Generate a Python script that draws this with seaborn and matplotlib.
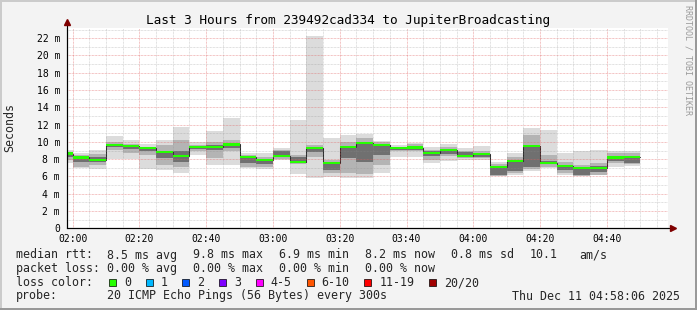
import matplotlib
matplotlib.use("Agg")
import matplotlib.pyplot as plt
import pandas as pd
import seaborn as sns
from matplotlib.patches import Rectangle
from matplotlib.lines import Line2D

# ---------------- data ----------------
title = "Last 3 Hours from 239492cad334 to JupiterBroadcasting"
# step start times, minutes after 02:00 (5-minute steps)
step_start = list(range(-5, 170, 5))
step_end = 170
median = [8.65, 8.2, 7.9, 9.65, 9.5, 9.3, 8.85, 8.4, 9.4, 9.45, 9.7, 8.25,
          7.9, 8.4, 7.7, 9.3, 7.6, 9.45, 9.85, 9.6, 9.3, 9.35, 8.75, 9.1,
          8.4, 8.6, 7.1, 7.8, 9.55, 7.55, 7.25, 6.95, 7.0, 8.2, 8.25]
outer_lo = [7.5, 6.95, 6.85, 8.0, 8.0, 6.85, 6.75, 6.45, 8.5, 7.3, 7.3, 6.95,
            6.9, 7.9, 6.3, 5.8, 5.95, 5.8, 5.85, 6.45, 8.3, 8.3, 7.5, 7.8,
            7.9, 7.9, 6.05, 6.15, 6.65, 6.95, 6.2, 6.0, 6.2, 7.1, 7.25]
outer_hi = [9.1, 8.75, 9.05, 10.7, 10.2, 9.8, 10.2, 11.75, 9.95, 11.3, 12.75, 8.7,
            8.7, 9.25, 12.5, 22.2, 10.4, 10.8, 10.9, 10.1, 9.6, 9.9, 9.4, 9.7,
            9.25, 9.55, 7.7, 8.75, 11.6, 11.4, 8.7, 8.9, 9.1, 9.0, 8.9]
mid_lo = [7.9, 7.1, 7.3, 9.05, 8.7, 8.5, 7.3, 7.1, 8.9, 8.1, 8.9, 7.1,
          7.1, 8.0, 7.4, 8.2, 6.4, 6.4, 6.3, 7.3, 8.9, 8.9, 7.9, 8.4,
          8.1, 8.1, 6.1, 6.4, 6.9, 7.1, 6.4, 6.0, 6.2, 7.5, 7.4]
mid_hi = [8.8, 8.5, 8.6, 10.0, 9.8, 9.45, 9.6, 10.2, 9.6, 10.0, 10.2, 8.5,
          8.3, 9.1, 8.5, 9.6, 7.9, 10.0, 10.4, 9.95, 9.4, 9.7, 9.1, 9.4,
          9.0, 9.0, 7.4, 8.3, 10.8, 8.5, 7.7, 7.3, 7.5, 8.7, 8.7]
inner_lo = [8.3, 7.7, 7.7, 9.4, 9.2, 8.9, 8.1, 7.7, 9.2, 9.1, 9.3, 7.5,
            7.4, 8.35, 7.6, 8.8, 6.75, 8.1, 7.7, 8.5, 9.1, 9.1, 8.4, 8.6,
            8.3, 8.3, 6.2, 6.6, 7.1, 7.4, 6.7, 6.2, 6.5, 7.8, 7.5]
inner_hi = [8.7, 8.3, 8.2, 9.8, 9.6, 9.3, 8.9, 8.9, 9.5, 9.6, 9.8, 8.3,
            7.9, 9.0, 8.2, 9.3, 7.5, 9.5, 10.0, 9.7, 9.35, 9.5, 8.9, 9.2,
            8.8, 8.6, 7.1, 7.9, 9.5, 7.8, 7.3, 7.0, 7.2, 8.4, 8.3]

x_ticks = [0, 20, 40, 60, 80, 100, 120, 140, 160]
x_labels = ["02:00", "02:20", "02:40", "03:00", "03:20", "03:40", "04:00", "04:20", "04:40"]
y_ticks = [0, 2, 4, 6, 8, 10, 12, 14, 16, 18, 20, 22]
y_labels = ["0", "2 m", "4 m", "6 m", "8 m", "10 m", "12 m", "14 m", "16 m", "18 m", "20 m", "22 m"]

rtt_label = "median rtt:"
rtt_items = ["8.5 ms avg", "9.8 ms max", "6.9 ms min", "8.2 ms now", "0.8 ms sd", "10.1", "am/s"]
loss_label = "packet loss:"
loss_items = ["0.00 % avg", "0.00 % max", "0.00 % min", "0.00 % now"]
color_label = "loss color:"
loss_names = ["0", "1", "2", "3", "4-5", "6-10", "11-19", "20/20"]
loss_colors = ["#26ff00", "#00b8ff", "#0059ff", "#7e00ff", "#ff00ff", "#ff5500", "#ff0000", "#a10000"]
probe_label = "probe:"
probe_text = "20 ICMP Echo Pings (56 Bytes) every 300s"
stamp = "Thu Dec 11 04:58:06 2025"
watermark = "RRDTOOL / TOBI OETIKER"
ylabel = "Seconds"

# ---------------- style ----------------
sns.set_style("white")
plt.rcParams["font.family"] = ["DejaVu Sans Mono"]
W, H = 697, 310
fig = plt.figure(figsize=(W / 100, H / 100), dpi=100, facecolor="#f3f3f3")


def fx(x):
    return x / W


def fy(y):
    return 1 - y / H


L, R, T, B = 67, 668, 28, 228.3
ax = fig.add_axes([fx(L), fy(B), fx(R) - fx(L), fy(T) - fy(B)])
ax.set_facecolor("white")

xmin, xmax = -1.68, 178.3
ymax = 23.18

xs = step_start + [step_end]


def ext(v):
    return list(v) + [v[-1]]


for lo, hi, col in [(outer_lo, outer_hi, "#dcdcdc"),
                    (mid_lo, mid_hi, "#b4b4b4"),
                    (inner_lo, inner_hi, "#707070")]:
    ax.fill_between(xs, ext(lo), ext(hi), step="post", color=col, linewidth=0, zorder=1)

df = pd.DataFrame({"t": xs, "median": ext(median)})
sns.lineplot(data=df, x="t", y="median", ax=ax, drawstyle="steps-post",
             color="#202020", linewidth=0.75, sort=False, estimator=None, zorder=2)
hw = 0.13
ax.fill_between(xs, [m - hw for m in ext(median)], [m + hw for m in ext(median)],
                step="post", color=loss_colors[0], linewidth=0, zorder=3)

ax.set_xlim(xmin, xmax)
ax.set_ylim(0, ymax)
ax.set_xticks(x_ticks)
ax.set_xticklabels(x_labels)
ax.set_xticks([m for m in range(0, 180, 5) if m % 20 != 0], minor=True)
ax.set_yticks(y_ticks)
ax.set_yticklabels(y_labels)
ax.set_yticks([v for v in range(1, 24) if v % 2 == 1], minor=True)
ax.set_xlabel("")
ax.set_ylabel("")

dots = (0, (0.72, 0.72))
ax.grid(which="minor", color="#8c8c8c", alpha=0.35, linestyle=dots, linewidth=0.72, zorder=5)
ax.grid(which="major", color="#e06060", alpha=0.5, linestyle=dots, linewidth=0.72, zorder=5)
ax.set_axisbelow(False)

for s in ["top", "right"]:
    ax.spines[s].set_visible(False)
for s in ["left", "bottom"]:
    ax.spines[s].set_color("#000000")
    ax.spines[s].set_linewidth(0.8)
    ax.spines[s].set_zorder(6)

ax.tick_params(axis="both", which="major", direction="inout", length=3, width=0.7,
               color="#d08080", labelsize=7, labelcolor="black")
ax.tick_params(axis="both", which="minor", direction="inout", length=2, width=0.7,
               color="#bbbbbb")
ax.tick_params(axis="x", which="major", pad=2.5)
ax.tick_params(axis="y", which="major", pad=3.5)

# axis arrows
arrow_col = "#7f0000"
fig.add_artist(Line2D([fx(L), fx(L)], [fy(B), fy(24)], color="black", linewidth=0.8))
fig.add_artist(Line2D([fx(L), fx(672)], [fy(B), fy(B)], color="black", linewidth=0.8))
fig.add_artist(Line2D([fx(L)], [fy(21.5)], marker="^", markersize=4.5, color=arrow_col, linestyle="none"))
fig.add_artist(Line2D([fx(673)], [fy(B)], marker=">", markersize=4.5, color=arrow_col, linestyle="none"))

# title and labels
fig.text(fx(348.5), fy(24), title, ha="center", va="baseline", fontsize=9.2, color="black")
fig.text(fx(10), fy(127.5), ylabel, rotation=90, ha="center", va="center", fontsize=8.4)
fig.text(fx(688), fy(60), watermark, rotation=270, ha="center", va="center",
         fontsize=6, color="#9a9a9a")

lfs = 8.4
rows = [258.5, 272, 286, 299.5]
fig.text(fx(16), fy(rows[0]), rtt_label, ha="left", va="baseline", fontsize=lfs)
for txt, xp in zip(rtt_items, [107.3, 193.3, 279, 365, 451, 530, 579]):
    fig.text(fx(xp), fy(rows[0]), txt, ha="left", va="baseline", fontsize=lfs)
fig.text(fx(16), fy(rows[1]), loss_label, ha="left", va="baseline", fontsize=lfs)
for txt, xp in zip(loss_items, [107.3, 193.3, 279, 365]):
    fig.text(fx(xp), fy(rows[1]), txt, ha="left", va="baseline", fontsize=lfs)
fig.text(fx(16), fy(rows[2]), color_label, ha="left", va="baseline", fontsize=lfs)
xp = 109
for name, col in zip(loss_names, loss_colors):
    fig.add_artist(Rectangle((fx(xp), fy(286)), fx(7), 7 / H, facecolor=col,
                             edgecolor="black", linewidth=0.5))
    fig.text(fx(xp + 15), fy(rows[2]), name, ha="left", va="baseline", fontsize=lfs)
    xp += 15 + len(name) * 7.08 + 14.6
fig.text(fx(16), fy(rows[3]), probe_label, ha="left", va="baseline", fontsize=lfs)
fig.text(fx(107.3), fy(rows[3]), probe_text, ha="left", va="baseline", fontsize=lfs)
fig.text(fx(680), fy(rows[3]), stamp, ha="right", va="baseline", fontsize=lfs)

# frame shading
fig.add_artist(Rectangle((0, 0), 1, 2 / H, facecolor="#999999", edgecolor="none"))
fig.add_artist(Rectangle((1 - 2 / W, 0), 2 / W, 1, facecolor="#999999", edgecolor="none"))
fig.add_artist(Rectangle((0, 1 - 2 / H), 1 - 2 / W, 2 / H, facecolor="#cbcbcb", edgecolor="none"))
fig.add_artist(Rectangle((0, 2 / H), 2 / W, 1 - 4 / H, facecolor="#cbcbcb", edgecolor="none"))

fig.savefig("out.png", dpi=100, facecolor=fig.get_facecolor())
